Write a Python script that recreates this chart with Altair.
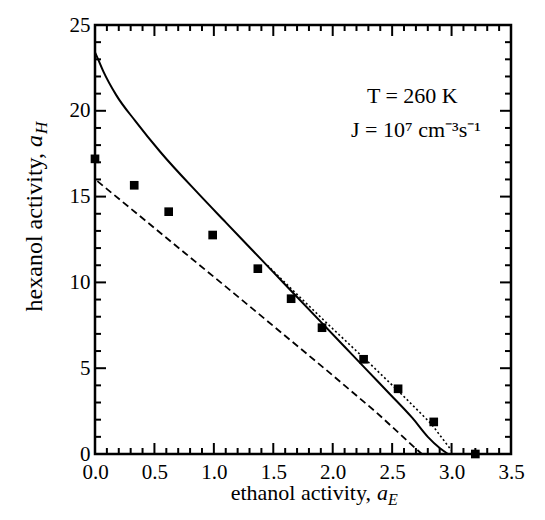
import altair as alt
import pandas as pd

# ---- data ----
pts_x = [0.0, 0.33, 0.62, 0.99, 1.37, 1.65, 1.91, 2.26, 2.55, 2.85, 3.20]
pts_y = [17.2, 15.66, 14.12, 12.76, 10.8, 9.05, 7.36, 5.52, 3.8, 1.87, 0.0]

solid_x = [0.0, 0.02, 0.07, 0.18, 0.34, 0.55, 0.88, 1.1, 1.3, 1.5, 1.7, 1.9, 2.1, 2.3, 2.48, 2.67, 2.80, 2.90, 2.97]
solid_y = [23.4, 23.1, 22.3, 20.9, 19.4, 17.6, 15.1, 13.5, 12.05, 10.6, 9.15, 7.7, 6.25, 4.8, 3.5, 2.1, 1.0, 0.35, 0.0]

dashed_x = [0.02, 1.215, 1.94, 2.37, 2.69, 2.75]
dashed_y = [15.9, 9.1, 4.93, 2.41, 0.37, 0.0]

dotted_x = [1.45, 1.70, 2.00, 2.30, 2.57, 2.83, 3.00]
dotted_y = [11.0, 9.3, 7.3, 5.35, 3.55, 1.75, 0.2]

x_major = [0.0, 0.5, 1.0, 1.5, 2.0, 2.5, 3.0, 3.5]
x_minor = [round(i * 0.1, 1) for i in range(36)]
y_major = [0, 5, 10, 15, 20, 25]
y_minor = list(range(26))

ann_text = ["T = 260 K", "J = 10\u2077 cm\u207b\u00b3s\u207b\u00b9"]
ann_x = [2.67, 2.70]
ann_y = [20.44, 18.5]

FONT = "Liberation Serif"
W, H = 416, 429
X0, X1, Y0, Y1 = 0.0, 3.5, 0.0, 25.0
# tick lengths (major / minor) expressed in data units
XT_MAJ, XT_MIN = 11 / H * (Y1 - Y0), 6 / H * (Y1 - Y0)
YT_MAJ, YT_MIN = 11 / W * (X1 - X0), 6 / W * (X1 - X0)

xs = alt.Scale(domain=[X0, X1], nice=False, zero=False)
ys = alt.Scale(domain=[Y0, Y1], nice=False, zero=False)

pts = pd.DataFrame({"x": pts_x, "y": pts_y})
solid = pd.DataFrame({"x": solid_x, "y": solid_y})
dashed = pd.DataFrame({"x": dashed_x, "y": dashed_y})
dotted = pd.DataFrame({"x": dotted_x, "y": dotted_y})
ann = pd.DataFrame({"x": ann_x, "y": ann_y, "t": ann_text})

l_pts = alt.Chart(pts).mark_square(size=75, color="black", opacity=1).encode(
    x=alt.X("x:Q", scale=xs, axis=alt.Axis(orient="bottom", values=x_major, format=".1f",
                                           ticks=False, domain=False, grid=False, title=None,
                                           labelPadding=7, labelFlush=False)),
    y=alt.Y("y:Q", scale=ys, axis=alt.Axis(orient="left", values=y_major, format="d",
                                           ticks=False, domain=False, grid=False, title=None,
                                           labelPadding=5)),
)
XN = alt.X("x:Q", scale=xs, axis=None)
YN = alt.Y("y:Q", scale=ys, axis=None)
l_solid = alt.Chart(solid).mark_line(color="black", strokeWidth=2, interpolate="monotone").encode(x=XN, y=YN)
l_dashed = alt.Chart(dashed).mark_line(color="black", strokeWidth=1.8, strokeDash=[7, 4]).encode(x=XN, y=YN)
l_dotted = alt.Chart(dotted).mark_line(color="black", strokeWidth=1.6, strokeDash=[2, 2.5]).encode(x=XN, y=YN)
l_ann = alt.Chart(ann).mark_text(font=FONT, fontSize=22, color="black", align="center",
                                 baseline="alphabetic").encode(x=XN, y=YN, text="t:N")

# inward tick marks on all four sides
rows = []
for v in x_minor:
    L = XT_MAJ if v in x_major else XT_MIN
    rows.append({"x": v, "x2": v, "y": Y0, "y2": Y0 + L})
    rows.append({"x": v, "x2": v, "y": Y1, "y2": Y1 - L})
for v in y_minor:
    L = YT_MAJ if v in y_major else YT_MIN
    rows.append({"x": X0, "x2": X0 + L, "y": v, "y2": v})
    rows.append({"x": X1, "x2": X1 - L, "y": v, "y2": v})
tick_df = pd.DataFrame(rows)
l_ticks = alt.Chart(tick_df).mark_rule(color="black", strokeWidth=2).encode(
    x=XN, x2="x2:Q", y=YN, y2="y2:Q")

one = pd.DataFrame({"k": [0]})


def txt(s, px, py, size=22, italic=False, align="left", angle=0):
    kw = dict(font=FONT, fontSize=size, color="black", align=align, baseline="alphabetic", text=s)
    if italic:
        kw["fontStyle"] = "italic"
    if angle:
        kw["angle"] = angle
    return alt.Chart(one).mark_text(**kw).encode(x=alt.value(px), y=alt.value(py))


# x-axis title: "ethanol activity, a_E"
xt1 = txt("ethanol activity,", 276, 475, align="right")
xt2 = txt("a", 282, 475, italic=True)
xt3 = txt("E", 293, 480, size=16, italic=True)
# y-axis title: "hexanol activity, a_H" (rotated)
yt1 = txt("hexanol activity,", -53, 128, size=24, align="right", angle=270)
yt2 = txt("a", -53, 122, size=24, italic=True, angle=270)
yt3 = txt("H", -48, 109, size=17, italic=True, angle=270)

chart = alt.layer(l_ticks, l_solid, l_dashed, l_dotted, l_pts, l_ann,
                  xt1, xt2, xt3, yt1, yt2, yt3).resolve_axis(
    x="independent", y="independent"
).properties(
    width=W, height=H,
    autosize=alt.AutoSizeParams(type="none"),
    padding={"left": 87, "top": 17, "right": 26, "bottom": 60},
).configure_view(
    stroke="black", strokeWidth=2.5
).configure_axis(
    labelFont=FONT, labelFontSize=21, labelColor="black",
)

chart.save("out.html", embed_options={"renderer": "svg", "actions": False})
